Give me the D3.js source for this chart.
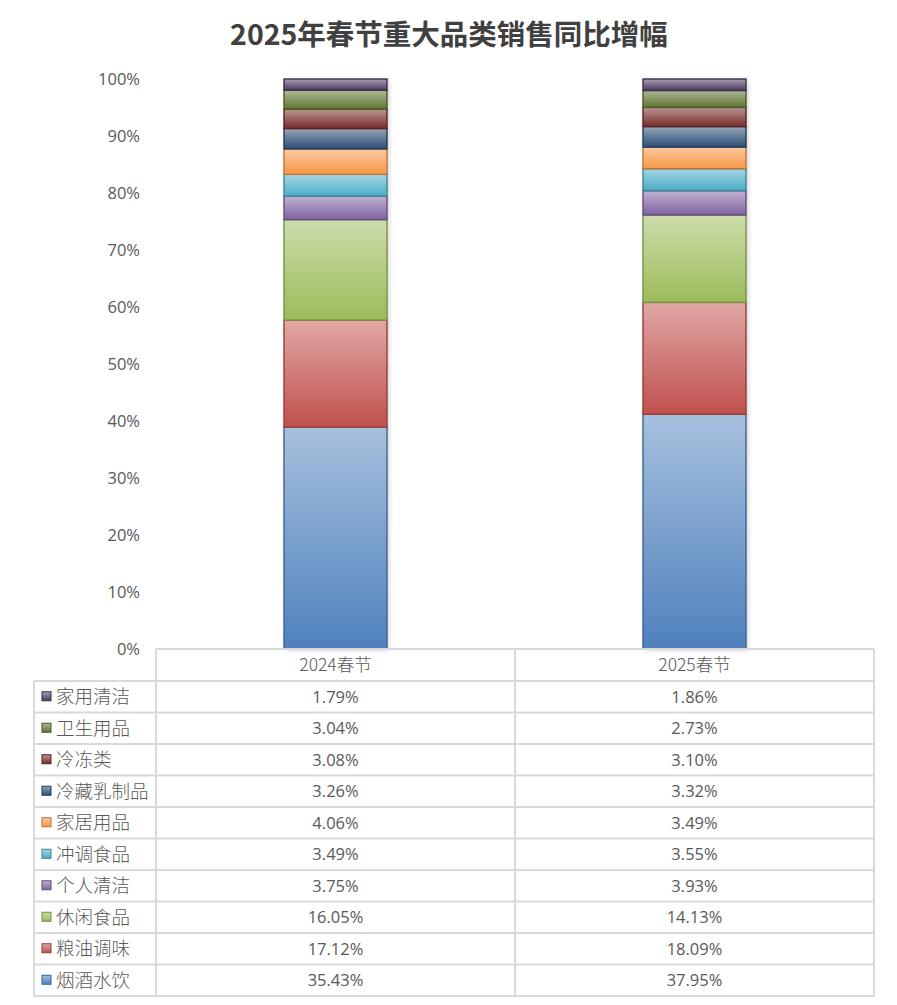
<!DOCTYPE html>
<html>
<head>
<meta charset="utf-8">
<script src="https://cdn.jsdelivr.net/npm/d3@7"></script>
<style>
  body { margin: 0; background: #fff; }
  svg { display: block; }
</style>
</head>
<body>
<div id="chart"></div>
<script>
// data
const periods = ["2024春节", "2025春节"];
// bottom -> top order of the stack
const categories = ["烟酒水饮", "粮油调味", "休闲食品", "个人清洁", "冲调食品", "家居用品", "冷藏乳制品", "冷冻类", "卫生用品", "家用清洁"];
const values2024 = [35.43, 17.12, 16.05, 3.75, 3.49, 4.06, 3.26, 3.08, 3.04, 1.79];
const values2025 = [37.95, 18.09, 14.13, 3.93, 3.55, 3.49, 3.32, 3.10, 2.73, 1.86];
const colors = ["#4F81BD", "#C0504D", "#9BBB59", "#8064A2", "#4BACC6", "#F79646", "#2C4D75", "#772C2A", "#5F7530", "#4D3B62"];
const yTicks = [0, 0.1, 0.2, 0.3, 0.4, 0.5, 0.6, 0.7, 0.8, 0.9, 1];

const W = 897, H = 1005;
const svg = d3.select("#chart").append("svg").attr("width", W).attr("height", H);
const defs = svg.append("defs");

// gradients, lighter on top
categories.forEach((c, i) => {
  const base = d3.color(colors[i]);
  const g = defs.append("linearGradient").attr("id", "grad" + i)
    .attr("x1", 0).attr("y1", 0).attr("x2", 0).attr("y2", 1);
  g.append("stop").attr("offset", "0%").attr("stop-color", d3.interpolateRgb(base, "#fff")(0.5));
  g.append("stop").attr("offset", "100%").attr("stop-color", base.formatHex());
});
const sh = defs.append("filter").attr("id", "shadow").attr("x", "-10%").attr("y", "-5%").attr("width", "130%").attr("height", "110%");
sh.append("feDropShadow").attr("dx", 2).attr("dy", 1).attr("stdDeviation", 2.5).attr("flood-color", "#000").attr("flood-opacity", 0.18);

// title
svg.append("text")
  .attr("x", 449).attr("y", 45)
  .attr("text-anchor", "middle")
  .attr("font-family", "'Noto Sans CJK SC', sans-serif")
  .attr("font-weight", "bold")
  .attr("font-size", 28.5)
  .attr("fill", "#404040")
  .text("2025年春节重大品类销售同比增幅");

// scales
const x = d3.scaleBand().domain(periods).range([156, 874]);
const y = d3.scaleLinear().domain([0, 1]).range([649, 79]);
const barW = 103;

// stack -> normalized
const rows = categories.map((c, i) => ({ cat: c, "2024春节": values2024[i], "2025春节": values2025[i] }));
const totals = periods.map(p => d3.sum(rows, r => r[p]));
const segs = [];
periods.forEach((p, pi) => {
  let acc = 0;
  rows.forEach((r, i) => {
    const v = r[p] / totals[pi];
    segs.push({ p, i, y0: acc, y1: acc + v });
    acc += v;
  });
});

// y axis
const yAxis = svg.append("g").attr("transform", "translate(140,0)")
  .call(d3.axisLeft(y).tickValues(yTicks).tickFormat(d3.format(".0%")).tickSize(0).tickPadding(0));
yAxis.select(".domain").remove();
yAxis.selectAll("text")
  .attr("font-family", "'Open Sans', 'Noto Sans', sans-serif")
  .attr("font-size", 16.5)
  .attr("fill", "#595959");

// bars
const bars = svg.append("g");
periods.forEach(p => {
  bars.append("rect")
    .attr("x", x(p) + (x.bandwidth() - barW) / 2).attr("y", y(1))
    .attr("width", barW).attr("height", y(0) - y(1))
    .attr("fill", "#fff").attr("filter", "url(#shadow)");
});
bars.selectAll("rect.seg").data(segs).join("rect")
  .attr("class", "seg")
  .attr("x", d => x(d.p) + (x.bandwidth() - barW) / 2)
  .attr("y", d => y(d.y1))
  .attr("width", barW)
  .attr("height", d => y(d.y0) - y(d.y1))
  .attr("fill", d => `url(#grad${d.i})`)
  .attr("stroke", d => d3.color(colors[d.i]).darker(0.7))
  .attr("stroke-width", 1.4);

// data table
const tableTop = 649, headerH = 32, tableBottom = 996;
const rowOrder = categories.slice().reverse();
const ry = d3.scaleBand().domain(rowOrder).range([tableTop + headerH, tableBottom]);
const lineColor = "#d9d9d9";
const tbl = svg.append("g").attr("stroke", lineColor).attr("stroke-width", 2).attr("fill", "none");
// horizontal lines
tbl.append("line").attr("x1", 156).attr("x2", 874).attr("y1", tableTop).attr("y2", tableTop);
rowOrder.forEach(c => {
  tbl.append("line").attr("x1", 34).attr("x2", 874).attr("y1", ry(c)).attr("y2", ry(c));
});
tbl.append("line").attr("x1", 34).attr("x2", 874).attr("y1", tableBottom).attr("y2", tableBottom);
// vertical lines
tbl.append("line").attr("x1", 34).attr("x2", 34).attr("y1", tableTop + headerH).attr("y2", tableBottom);
[156, ...periods.map(p => x(p) + x.bandwidth())].forEach(xx => {
  tbl.append("line").attr("x1", xx).attr("x2", xx).attr("y1", tableTop).attr("y2", tableBottom);
});

const textFont = "'Noto Sans CJK SC', sans-serif";
// header
svg.append("g").selectAll("text").data(periods).join("text")
  .attr("x", d => x(d) + x.bandwidth() / 2)
  .attr("y", tableTop + headerH / 2 + 6)
  .attr("text-anchor", "middle")
  .attr("font-family", textFont).attr("font-size", 17.5).attr("fill", "#595959")
  .attr("font-weight", 300)
  .text(d => d);

// row labels with keys
const lab = svg.append("g").selectAll("g").data(rowOrder).join("g")
  .attr("transform", d => `translate(0,${ry(d) + ry.bandwidth() / 2})`);
lab.append("rect")
  .attr("x", 42).attr("y", -5).attr("width", 9).attr("height", 9)
  .attr("fill", d => `url(#grad${categories.indexOf(d)})`)
  .attr("stroke", d => d3.color(colors[categories.indexOf(d)]).darker(0.8))
  .attr("stroke-width", 1);
lab.append("text")
  .attr("x", 56).attr("y", 6.5)
  .attr("font-family", textFont).attr("font-size", 18.5).attr("fill", "#595959")
  .attr("font-weight", 300)
  .text(d => d);

// values
const cells = [];
rowOrder.forEach(c => {
  const i = categories.indexOf(c);
  cells.push({ c, p: periods[0], v: values2024[i] });
  cells.push({ c, p: periods[1], v: values2025[i] });
});
svg.append("g").selectAll("text").data(cells).join("text")
  .attr("x", d => x(d.p) + x.bandwidth() / 2)
  .attr("y", d => ry(d.c) + ry.bandwidth() / 2 + 6)
  .attr("text-anchor", "middle")
  .attr("font-family", "'Open Sans', 'Noto Sans', sans-serif")
  .attr("font-size", 16.5).attr("fill", "#595959")
  .text(d => d.v.toFixed(2) + "%");
</script>
</body>
</html>
